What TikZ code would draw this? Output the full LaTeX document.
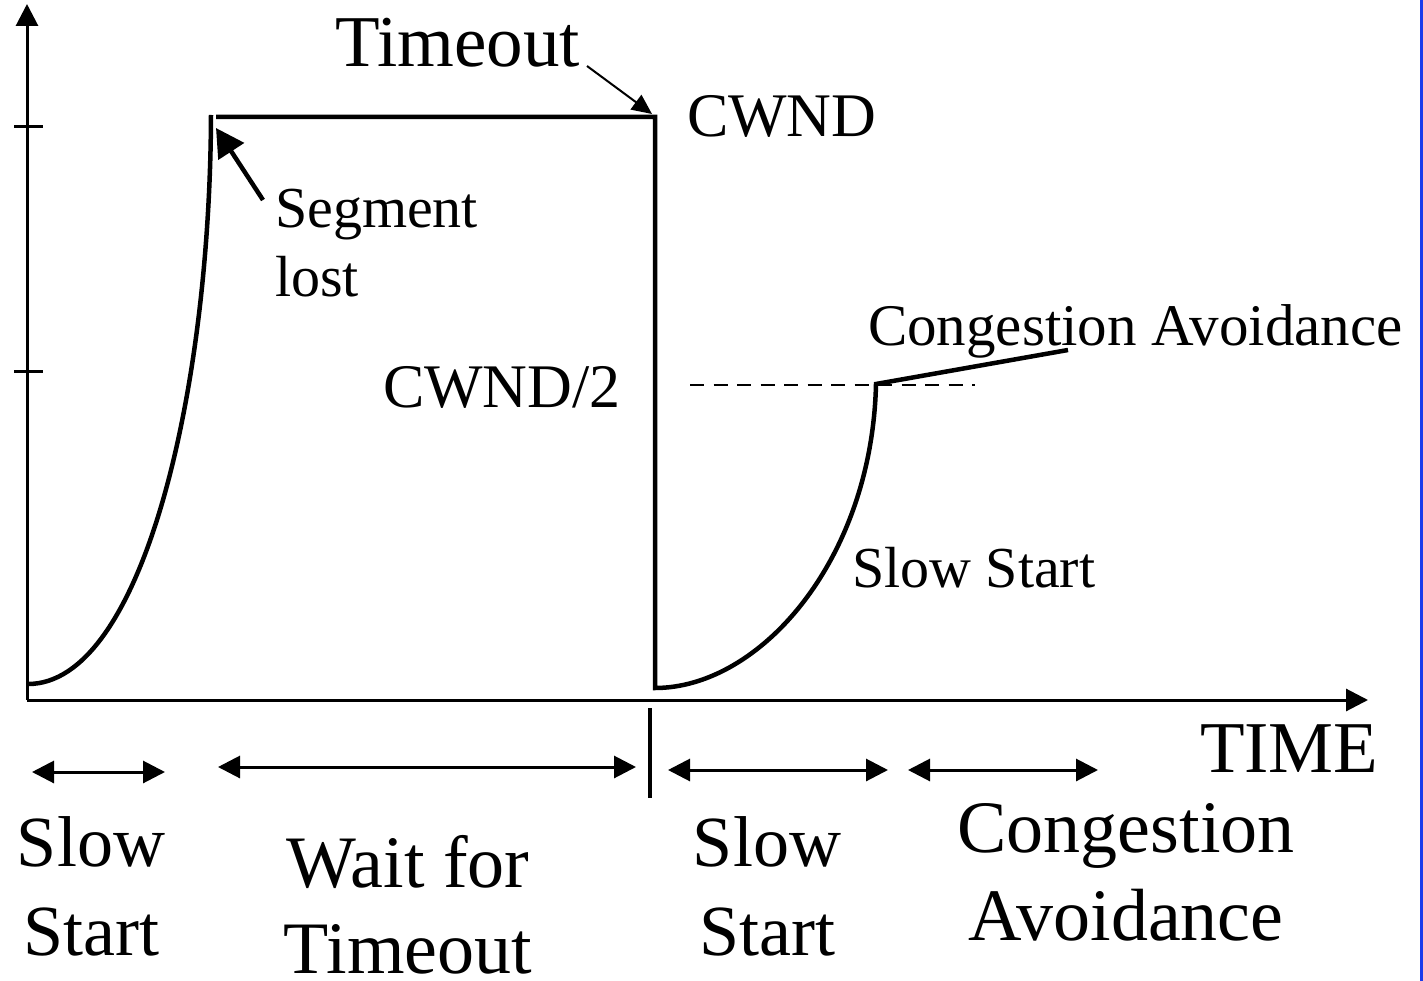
\documentclass[tikz,border=0pt]{standalone}
\usepackage{fontspec}
\setmainfont{Liberation Serif}
\usetikzlibrary{arrows.meta}
\definecolor{frameblue}{RGB}{25,60,235}
\begin{document}
\begin{tikzpicture}[x=1pt,y=-1pt,
  curve/.style={line width=4.5pt, line join=miter},
  axis/.style={line width=3pt,-{Triangle[length=22pt,width=22pt]}},
  tick/.style={line width=3pt},
  span/.style={line width=3pt,{Triangle[length=22pt,width=22pt]}-{Triangle[length=22pt,width=22pt]}},
  lbl/.style={inner sep=0pt, outer sep=0pt},
  big/.style={lbl, align=center},
  mid/.style={lbl, font=\fontsize{62}{70}\selectfont},
  small/.style={lbl, font=\fontsize{58}{69}\selectfont, align=left}]
\useasboundingbox (0,0) rectangle (1423,981);
\fill[frameblue] (1420,0) rectangle (1423,981);
% axes
\coordinate (O) at (27,700);
\coordinate (ytop) at (27,4);
\coordinate (xend) at (1368,700);
\draw[axis] (O) -- (ytop);
\draw[axis] (O) -- (xend);
\draw[tick] (14,127) -- (43,127);
\draw[tick] (14,371) -- (43,371);
% first slow start
\coordinate (s0) at (28,684);
\coordinate (s1) at (211,115);
\draw[curve] (s0) .. controls (140,684) and (210,400) .. (s1);
% plateau, drop, second slow start, congestion avoidance
\coordinate (p0) at (216,117);
\coordinate (p1) at (655,117);
\coordinate (p2) at (655,688);
\coordinate (p3) at (876,384);
\coordinate (p4) at (1068,350);
\draw[curve] (p0) -- (p1) -- (p2) .. controls (760,688) and (872,560) .. (p3) -- (p4);
% dashed threshold
\coordinate (d0) at (690,385);
\coordinate (d1) at (975,385);
\draw[line width=2.5pt, dash pattern=on 14pt off 9.5pt] (d0) -- (d1);
% labels
\node[lbl, font=\fontsize{73}{80}\selectfont, anchor=base west] (timeout) at (335,67) {Timeout};
\node[mid, anchor=base west] (cwnd) at (687,137) {CWND};
\node[small, anchor=base west] (seg) at (275,297) {Segment\\lost};
\node[lbl, font=\fontsize{59}{69}\selectfont, anchor=base west] (ca) at (868,345) {Congestion Avoidance};
\node[mid, anchor=base west] (cwnd2) at (383,407) {CWND/2};
\node[small, anchor=base west] (ss) at (852,587) {Slow Start};
\node[lbl, font=\fontsize{73}{80}\selectfont, anchor=base west] (time) at (1200,772) {TIME};
% pointer arrows
\coordinate (tA) at (587,66);
\coordinate (tB) at (652,114);
\draw[line width=2pt, -{Triangle[length=20pt,width=18pt]}] (tA) -- (tB);
\coordinate (sA) at (263,200);
\coordinate (sB) at (216,128);
\draw[line width=4.5pt, -{Triangle[length=28pt,width=30pt]}] (sA) -- (sB);
% phase divider and spans
\draw[line width=4pt] (650,708) -- (650,798);
\coordinate (a1l) at (32,772); \coordinate (a1r) at (165,772);
\coordinate (a2l) at (218,767); \coordinate (a2r) at (636,767);
\coordinate (a3l) at (668,770); \coordinate (a3r) at (888,770);
\coordinate (a4l) at (908,770); \coordinate (a4r) at (1098,770);
\draw[span] (a1l) -- (a1r);
\draw[span] (a2l) -- (a2r);
\draw[span] (a3l) -- (a3r);
\draw[span] (a4l) -- (a4r);
% phase labels (base anchor = baseline of the last line)
\node[big, font=\fontsize{72}{89}\selectfont, anchor=base] (ph1) at (91,955) {Slow\\Start};
\node[big, font=\fontsize{74}{86}\selectfont, anchor=base, text depth=0pt] (ph2) at (408,973) {Wait for\\Timeout};
\node[big, font=\fontsize{72}{89}\selectfont, anchor=base] (ph3) at (767,955) {Slow\\Start};
\node[big, font=\fontsize{74}{88}\selectfont, anchor=base] (ph4) at (1126,940) {Congestion\\Avoidance};
\end{tikzpicture}
\end{document}
